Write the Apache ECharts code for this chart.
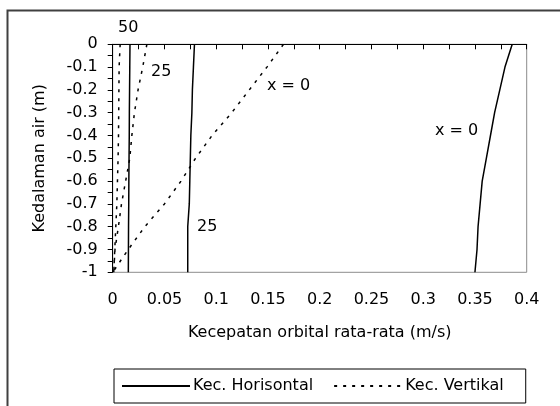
<!DOCTYPE html>
<html>
<head>
<meta charset="utf-8">
<script src="https://cdn.jsdelivr.net/npm/echarts@6/dist/echarts.min.js"></script>
<style>
  html, body { margin: 0; padding: 0; background: #fff; }
  #chart { width: 560px; height: 406px; }
</style>
</head>
<body>
<div id="chart"></div>
<script>
// Depth below the surface (m), shared by every profile
const depths = [0, -0.1, -0.2, -0.3, -0.4, -0.5, -0.6, -0.7, -0.8, -0.9, -1];

// Mean horizontal orbital velocity (m/s) at x = 0, 25, 50
const horizX0  = [0.386, 0.379, 0.374, 0.369, 0.365, 0.361, 0.357, 0.355, 0.353, 0.352, 0.350];
const horizX25 = [0.079, 0.078, 0.077, 0.0765, 0.0755, 0.075, 0.0745, 0.074, 0.0725, 0.0725, 0.0725];
const horizX50 = [0.0167, 0.0165, 0.0163, 0.0161, 0.016, 0.0158, 0.0156, 0.0155, 0.0153, 0.0152, 0.0151];

// Mean vertical orbital velocity (m/s) at x = 0, 25, 50
const vertX0  = [0.165, 0.149, 0.132, 0.115, 0.096, 0.080, 0.066, 0.050, 0.031, 0.015, 0];
const vertX25 = [0.033, 0.029, 0.0245, 0.021, 0.0185, 0.0165, 0.0125, 0.0085, 0.0055, 0.0022, 0.001];
const vertX50 = [0.0072, 0.0062, 0.006, 0.0058, 0.0056, 0.0052, 0.0046, 0.004, 0.003, 0.002, 0.001];

// Axis ticks
const xTicks = { min: 0, max: 0.4, step: 0.05 };
const yTicks = { min: -1, max: 0, step: 0.1 };

const nameH = 'Kec. Horisontal';
const nameV = 'Kec. Vertikal';

const font = 'DejaVu Sans';

function pairs(vals) {
  return vals.map((v, i) => [v, depths[i]]);
}

function solid(vals) {
  return {
    name: nameH, type: 'line', data: pairs(vals), symbol: 'none',
    lineStyle: { color: '#000', width: 1.5, type: 'solid' },
    itemStyle: { color: '#000' }, silent: true, animation: false
  };
}
function dotted(vals) {
  return {
    name: nameV, type: 'line', data: pairs(vals), symbol: 'none',
    lineStyle: { color: '#000', width: 1.5, type: [3, 6] },
    itemStyle: { color: '#000' }, silent: true, animation: false
  };
}

const chart = echarts.init(document.getElementById('chart'), null, { renderer: 'canvas' });

const textStyle = { fontFamily: font, fontSize: 16, color: '#000' };

chart.setOption({
  animation: false,
  backgroundColor: '#fff',
  textStyle: { fontFamily: font },
  grid: {
    left: 112.7, right: 33.3, top: 44.3, bottom: 133.7,
    show: true, borderColor: '#8c8c8c', borderWidth: 1, containLabel: false
  },
  xAxis: {
    type: 'value', min: xTicks.min, max: xTicks.max, interval: xTicks.step,
    name: 'Kecepatan orbital rata-rata (m/s)', nameLocation: 'middle', nameGap: 53,
    nameTextStyle: textStyle,
    axisLine: { show: true, lineStyle: { color: '#000', width: 1 } },
    axisTick: { show: true, length: 5, lineStyle: { color: '#000' } },
    minorTick: { show: true, splitNumber: 2, length: 5, lineStyle: { color: '#000' } },
    splitLine: { show: false },
    axisLabel: { ...textStyle, margin: 20, formatter: v => String(+v.toFixed(3)) }
  },
  yAxis: {
    type: 'value', min: yTicks.min, max: yTicks.max, interval: yTicks.step,
    name: 'Kedalaman air (m)', nameLocation: 'middle', nameGap: 65, nameRotate: 90,
    nameTextStyle: textStyle,
    axisLine: { show: true, onZero: false, lineStyle: { color: '#000', width: 1 } },
    axisTick: { show: true, length: 5, lineStyle: { color: '#000' } },
    minorTick: { show: true, splitNumber: 2, length: 5, lineStyle: { color: '#000' } },
    splitLine: { show: false },
    axisLabel: { ...textStyle, margin: 15, formatter: v => String(+v.toFixed(2)) }
  },
  legend: {
    data: [nameH, nameV],
    left: 114, top: 369,
    itemWidth: 68, itemHeight: 14, itemGap: 20,
    padding: [9, 22, 9, 7],
    borderColor: '#000', borderWidth: 1,
    itemStyle: { opacity: 0 },
    textStyle: { ...textStyle, padding: [0, 0, 0, -2] },
    selectedMode: false
  },
  graphic: [
    // outer frame around the whole figure
    { type: 'rect', shape: { x: 7.5, y: 10.5, width: 600, height: 500 },
      style: { fill: null, stroke: '#404040', lineWidth: 2 }, silent: true, z: -1 },
    { type: 'text', left: 118, top: 20, style: { text: '50', ...textStyle } },
    { type: 'text', left: 151, top: 64, style: { text: '25', ...textStyle } },
    { type: 'text', left: 267, top: 78, style: { text: 'x = 0', ...textStyle } },
    { type: 'text', left: 435, top: 123, style: { text: 'x = 0', ...textStyle } },
    { type: 'text', left: 197, top: 219, style: { text: '25', ...textStyle } }
  ],
  series: [
    solid(horizX0), solid(horizX25), solid(horizX50),
    dotted(vertX0), dotted(vertX25), dotted(vertX50)
  ]
});
</script>
</body>
</html>
